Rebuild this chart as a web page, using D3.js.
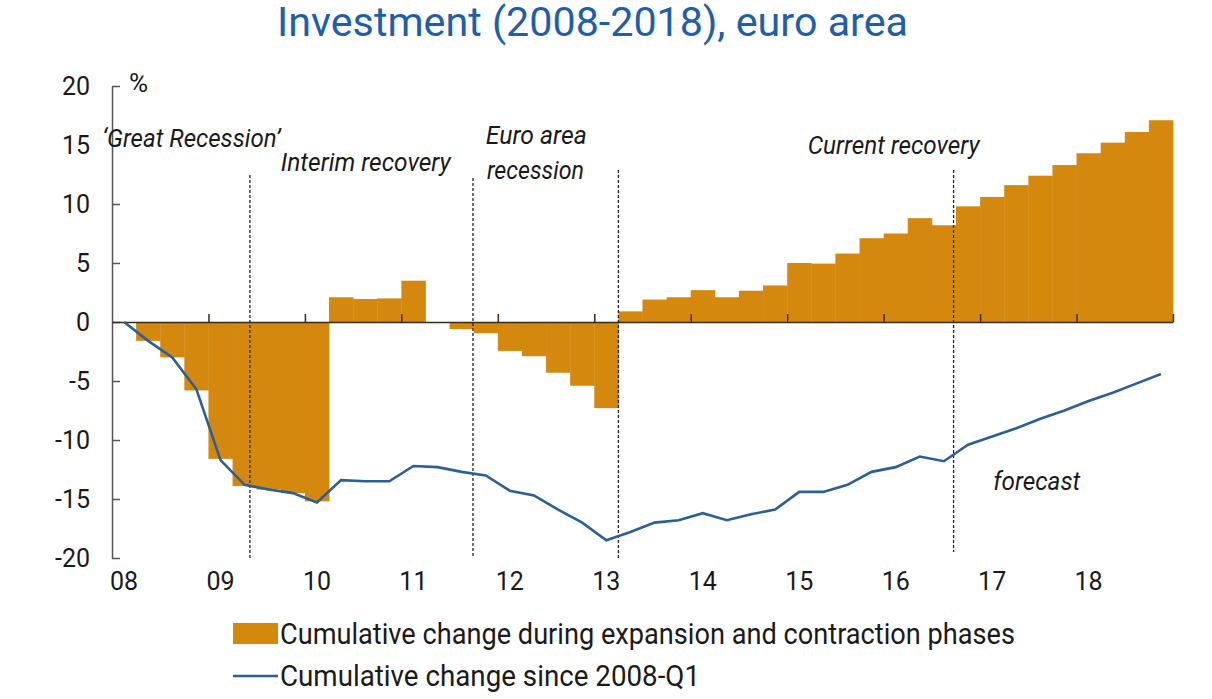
<!DOCTYPE html>
<html>
<head>
<meta charset="utf-8">
<script src="https://cdn.jsdelivr.net/npm/d3@7"></script>
<style>
  body { margin: 0; background: #fff; }
  text { font-family: Roboto, 'Open Sans', sans-serif; fill: #1a1a1a; }
</style>
</head>
<body>
<script>
// quarters 2008-Q1 .. 2018-Q4 (index 0..43)
const yearLabels = ['08', '09', '10', '11', '12', '13', '14', '15', '16', '17', '18'];

// cumulative change during expansion / contraction phases (null = no bar)
const phaseChange = [
  null, -1.6, -3.0, -5.8,
  -11.6, -13.9, -14.2, -14.5,
  -15.2, 2.1, 1.95, 2.0,
  3.5, null, -0.6, -0.95,
  -2.45, -2.9, -4.3, -5.4,
  -7.3, 0.9, 1.9, 2.1,
  2.7, 2.1, 2.65, 3.1,
  5.0, 4.95, 5.8, 7.1,
  7.5, 8.8, 8.2, 9.8,
  10.6, 11.6, 12.4, 13.3,
  14.3, 15.2, 16.1, 17.1
];

// cumulative change since 2008-Q1
const sinceStart = [
  0, -1.6, -3.0, -5.7,
  -11.7, -13.8, -14.2, -14.5,
  -15.3, -13.4, -13.5, -13.5,
  -12.2, -12.3, -12.7, -13.0,
  -14.3, -14.7, -15.9, -17.0,
  -18.5, -17.8, -17.0, -16.8,
  -16.2, -16.8, -16.3, -15.9,
  -14.4, -14.4, -13.8, -12.7,
  -12.3, -11.4, -11.8, -10.4,
  -9.7, -9.0, -8.2, -7.5,
  -6.7, -6.0, -5.2, -4.4
];

// phase boundaries (in quarter units)
const phaseLines = [5.72, 14.97, 21.0, 34.9];

const annotations = [
  { text: '\u2018Great Recession\u2019', q: -0.4, y: 14.85, w: 178 },
  { text: 'Interim recovery', q: 7.0, y: 12.8, w: 170 },
  { text: 'Euro area', q: 15.5, y: 15.05, w: 101 },
  { text: 'recession', q: 15.55, y: 12.1, w: 97 },
  { text: 'Current recovery', q: 28.85, y: 14.2, w: 172 },
  { text: 'forecast', q: 36.55, y: -14.25, w: 87 }
];

const legendItems = [
  { type: 'bar', label: 'Cumulative change during expansion and contraction phases', w: 735 },
  { type: 'line', label: 'Cumulative change since 2008-Q1', w: 420 }
];

const width = 1212;
const height = 699;
const barColor = '#d4890e';
const lineColor = '#2a5f98';

const svg = d3.select('body')
  .append('svg')
  .attr('width', width)
  .attr('height', height);

const x = d3.scaleLinear().domain([0, 44]).range([112, 1173]);
const y = d3.scaleLinear().domain([-20, 20]).range([558, 86]);

// title
svg.append('text')
  .attr('x', 277)
  .attr('y', 36)
  .attr('textLength', 631)
  .attr('lengthAdjust', 'spacingAndGlyphs')
  .style('font-size', '40px')
  .style('fill', '#1f5ea8')
  .text('Investment (2008-2018), euro area');

// bars
svg.append('g')
  .selectAll('rect')
  .data(phaseChange.map((v, i) => ({ v, i })).filter(d => d.v !== null))
  .enter().append('rect')
    .attr('x', d => x(d.i))
    .attr('width', d => x(d.i + 1) - x(d.i) + 0.4)
    .attr('y', d => y(Math.max(0, d.v)))
    .attr('height', d => Math.abs(y(d.v) - y(0)))
    .style('fill', barColor);

// y axis
const yAxis = d3.axisLeft(y)
  .tickValues(d3.range(-20, 21, 5))
  .tickSizeInner(-8)
  .tickSizeOuter(0)
  .tickPadding(22)
  .tickFormat(d => String(d));

const gy = svg.append('g')
  .attr('transform', `translate(${x(0)},0)`)
  .call(yAxis);
gy.select('.domain').style('stroke', '#555').style('stroke-width', 1.5);
gy.selectAll('.tick line').style('stroke', '#555').style('stroke-width', 1.5);
gy.selectAll('.tick text')
  .style('font-family', 'Roboto, sans-serif')
  .style('font-size', '25px')
  .style('fill', '#1a1a1a');

svg.append('text')
  .attr('x', 129)
  .attr('y', 92)
  .style('font-size', '26px')
  .text('%');

// x axis along zero
const xAxis = d3.axisBottom(x)
  .tickValues(d3.range(4, 45, 4))
  .tickSizeInner(-8)
  .tickSizeOuter(0)
  .tickFormat('');

const gx = svg.append('g')
  .attr('transform', `translate(0,${y(0)})`)
  .call(xAxis);
gx.select('.domain').style('stroke', '#3a2a1a').style('stroke-width', 1.5);
gx.selectAll('.tick line').style('stroke', '#3a2a1a').style('stroke-width', 1.5);

// year labels
svg.append('g')
  .selectAll('text')
  .data(yearLabels)
  .enter().append('text')
    .attr('x', (d, i) => x(i * 4 + 0.5))
    .attr('y', 590)
    .attr('text-anchor', 'middle')
    .style('font-size', '25px')
    .text(d => d);

// phase separators
svg.append('g')
  .selectAll('line')
  .data(phaseLines)
  .enter().append('line')
    .attr('x1', d => x(d))
    .attr('x2', d => x(d))
    .attr('y1', (d, i) => i === 0 ? 175 : (i === 1 ? 178 : 170))
    .attr('y2', (d, i) => i === 3 ? 552 : 558)
    .style('stroke', '#222')
    .style('stroke-width', 1.3)
    .style('stroke-dasharray', '3,2');

// line series
const line = d3.line()
  .x((d, i) => x(i + 0.5))
  .y(d => y(d));

svg.append('path')
  .datum(sinceStart)
  .attr('d', line)
  .style('fill', 'none')
  .style('stroke', lineColor)
  .style('stroke-width', 2.6);

// annotations
svg.append('g')
  .selectAll('text')
  .data(annotations)
  .enter().append('text')
    .attr('x', d => x(d.q))
    .attr('y', d => y(d.y))
    .attr('textLength', d => d.w)
    .attr('lengthAdjust', 'spacingAndGlyphs')
    .style('font-size', '25px')
    .style('font-style', 'italic')
    .text(d => d.text);

// legend
const legend = svg.append('g')
  .selectAll('g')
  .data(legendItems)
  .enter().append('g')
    .attr('transform', (d, i) => `translate(233,${634 + i * 42})`);

legend.filter(d => d.type === 'bar').append('rect')
  .attr('x', 0)
  .attr('y', -11)
  .attr('width', 45)
  .attr('height', 21)
  .style('fill', barColor);

legend.filter(d => d.type === 'line').append('line')
  .attr('x1', 0)
  .attr('x2', 45)
  .style('stroke', lineColor)
  .style('stroke-width', 2.6);

legend.append('text')
  .attr('x', 47)
  .attr('y', 10)
  .attr('textLength', d => d.w)
  .attr('lengthAdjust', 'spacingAndGlyphs')
  .style('font-size', '29px')
  .text(d => d.label);
</script>
</body>
</html>
